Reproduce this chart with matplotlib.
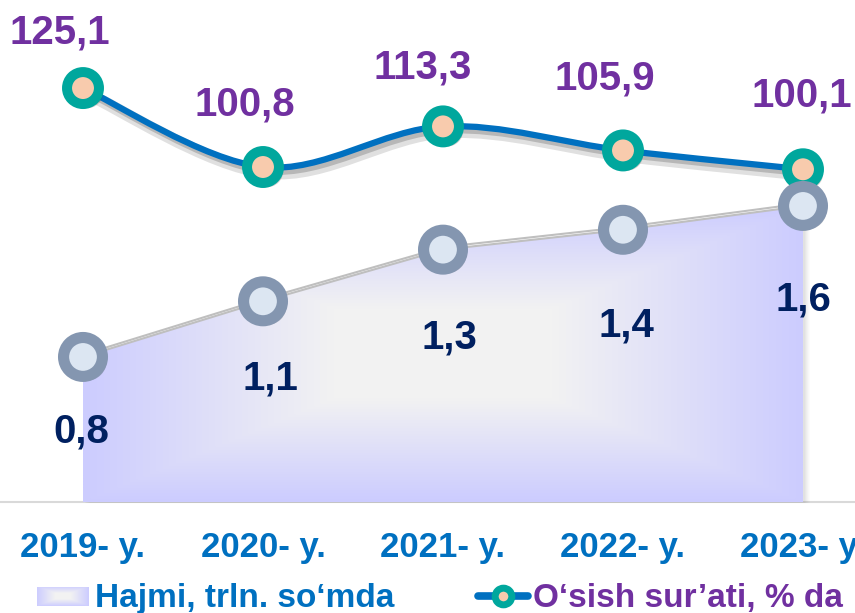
import numpy as np
import matplotlib
matplotlib.use("Agg")
from matplotlib import pyplot as plt
from matplotlib.path import Path
from matplotlib.patches import PathPatch
from matplotlib.lines import Line2D
from matplotlib.transforms import offset_copy
import matplotlib.patheffects as pe

plt.rcParams['font.family'] = ['Liberation Sans', 'DejaVu Sans']
plt.rcParams['font.weight'] = 'bold'

years = ['2019- y.', '2020- y.', '2021- y.', '2022- y.', '2023- y.']
hajmi = [0.80, 1.08, 1.34, 1.44, 1.56]
hajmi_labels = ['0,8', '1,1', '1,3', '1,4', '1,6']
osish = [125.1, 100.8, 113.3, 105.9, 100.1]
osish_labels = ['125,1', '100,8', '113,3', '105,9', '100,1']

# label offsets (pixels) - layout only
osish_off = [(-23, 56), (-18, 63), (-20, 59), (-18, 72), (-1, 74)]
hajmi_off = [(-2, -75), (7, -77), (6, -88), (3, -96), (0, -94)]

W, H = 855, 613
fig = plt.figure(figsize=(W / 100, H / 100), dpi=100)
ax = fig.add_axes([-7 / W, (H - 502) / H, 900 / W, 502 / H])
ax2 = ax.twinx()

x = np.arange(len(years))

# ---- area (Hajmi) on ax2 ----
bot = 0.07
ax2.set_ylim(bot, bot + 502 / 198.7)
top = max(hajmi)

u = np.linspace(-1, 1, 400)
v = np.linspace(-1, 1, 200)
U, V = np.meshgrid(u, v)
d = np.maximum(np.abs(U), np.abs(V))
t = np.clip((d - 0.3) / 0.7, 0, 1)[..., None]
c0 = np.array([0.95, 0.95, 0.95])
c1 = np.array([0.80, 0.80, 1.0])
grad = c0 + (c1 - c0) * t

# soft shadow of the area
for k, a in [(6, 0.06), (4, 0.08), (2, 0.10)]:
    tr = offset_copy(ax2.transData, fig=fig, x=k, y=-1, units='dots')
    ax2.fill_between(x, hajmi, bot, color='gray', alpha=a, lw=0, transform=tr, zorder=0.5)

poly = ax2.fill_between(x, hajmi, bot, facecolor='none', edgecolor='none', zorder=1)
im = ax2.imshow(grad, extent=(0, len(x) - 1, bot, top), origin='lower',
                aspect='auto', zorder=1, interpolation='bilinear')
im.set_clip_path(poly.get_paths()[0], transform=ax2.transData)
ax2.plot(x, hajmi, color='#BFBFBF', lw=1.5, zorder=2,
         path_effects=[pe.SimpleLineShadow(offset=(1, 2), alpha=0.25), pe.Normal()])
ax2.plot(x, hajmi, 'o', ms=28, mfc='#DCE6F2', mec='#8496B0', mew=8, zorder=4,
         path_effects=[pe.SimplePatchShadow(offset=(3, -3), alpha=0.25), pe.Normal()])
for i, lab in enumerate(hajmi_labels):
    ax2.annotate(lab, (x[i], hajmi[i]), xytext=(hajmi_off[i][0] * 0.72, hajmi_off[i][1] * 0.72),
                 textcoords='offset points', ha='center', va='center',
                 fontsize=29, color='#002060', fontweight='bold', zorder=5)

# ---- smooth line (O'sish) on ax ----
ax.set_ylim(-2.3, 152.2)
pts = np.column_stack([x, osish]).astype(float)
P = np.vstack([pts[0], pts, pts[-1]])
verts = [tuple(pts[0])]
codes = [Path.MOVETO]
for i in range(len(pts) - 1):
    p0, p1, p2, p3 = P[i], P[i + 1], P[i + 2], P[i + 3]
    verts += [tuple(p1 + (p2 - p0) / 6), tuple(p2 - (p3 - p1) / 6), tuple(p2)]
    codes += [Path.CURVE4] * 3
curve = PathPatch(Path(verts, codes), fill=False, edgecolor='#0070C0', lw=4.5,
                  capstyle='round', zorder=3,
                  path_effects=[pe.SimpleLineShadow(offset=(3, -4), alpha=0.12, linewidth=9),
                                pe.SimpleLineShadow(offset=(2, -3), alpha=0.18),
                                pe.Normal()])
ax.add_patch(curve)
ax.plot(x, osish, 'o', ms=23, mfc='#F8CBAD', mec='#00A79D', mew=7.2, zorder=4,
        path_effects=[pe.SimplePatchShadow(offset=(3, -3), alpha=0.25), pe.Normal()])
for i, lab in enumerate(osish_labels):
    ax.annotate(lab, (x[i], osish[i]), xytext=(osish_off[i][0] * 0.72, osish_off[i][1] * 0.72),
                textcoords='offset points', ha='center', va='center',
                fontsize=29, color='#7030A0', fontweight='bold', zorder=5)

ax.set_xlim(-0.5, len(x) - 0.5)
ax2.set_xlim(-0.5, len(x) - 0.5)

ax.set_xticks(x, years, color='#0070C0', fontsize=25, fontweight='bold')
ax.tick_params(axis='x', length=0, pad=21)
ax.set_yticks([])
ax2.set_yticks([])
for s in ['left', 'right', 'top']:
    ax.spines[s].set_visible(False)
ax.spines['bottom'].set_color('#D9D9D9')
ax.spines['bottom'].set_linewidth(1.5)
for s in ax2.spines.values():
    s.set_visible(False)

# ---- legend ----
lax = fig.add_axes([37 / W, (H - 606) / H, 51 / W, 19 / H])
lax.imshow(grad, aspect='auto', interpolation='bilinear')
lax.axis('off')
fig.text(95 / W, (H - 607) / H, 'Hajmi, trln. so‘mda', color='#0070C0',
         fontsize=24, fontweight='bold', va='baseline')
ly = (H - 596) / H
fig.add_artist(Line2D([478 / W, 528 / W], [ly, ly], transform=fig.transFigure,
                      color='#0070C0', lw=5.5, solid_capstyle='round'))
fig.add_artist(Line2D([503 / W], [ly], transform=fig.transFigure, marker='o', ms=12,
                      mfc='#F8CBAD', mec='#00A79D', mew=5, ls='none'))
fig.text(533 / W, (H - 607) / H, 'O‘sish sur’ati, % da', color='#7030A0',
         fontsize=24, fontweight='bold', va='baseline')

fig.savefig('out.png', dpi=100)
